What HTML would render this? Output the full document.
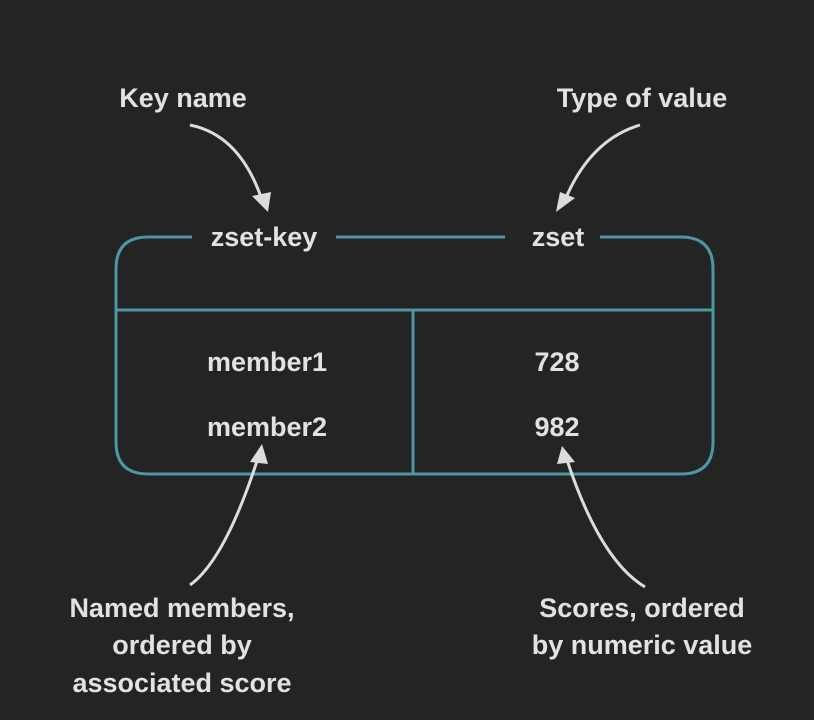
<!DOCTYPE html>
<html><head><meta charset="utf-8"><style>
body{margin:0;background:#242424;}
svg{display:block}
text{font-family:"Liberation Sans Narrow","Liberation Sans",sans-serif;fill:#e2e2e2;text-anchor:middle;font-weight:bold}
</style></head><body>
<svg width="814" height="720" viewBox="0 0 814 720">
<rect width="814" height="720" fill="#242424"/>
<defs><marker id="a" markerWidth="10" markerHeight="10" refX="5" refY="5" orient="auto" markerUnits="userSpaceOnUse" viewBox="0 0 10 10"><path d="M0,0 L10,5 L0,10 Z" fill="#dcdcdc"/></marker></defs>
<g fill="none" stroke="#4c97a3" stroke-width="3">
<path d="M192,237 H148 Q116,237 116,269 V442 Q116,474 148,474 H681 Q713,474 713,442 V269 Q713,237 681,237 H600"/>
<line x1="336" y1="237" x2="505" y2="237"/>
<line x1="116" y1="310" x2="713" y2="310"/>
<line x1="413" y1="310" x2="413" y2="474"/>
</g>
<g fill="none" stroke="#dcdcdc" stroke-width="3">
<path d="M190,125 Q240,135 262,200"/>
<path d="M640,125 Q590,140 565,200"/>
<path d="M190,585 Q225,560 258,458"/>
<path d="M645,587 Q600,560 567,460"/>
</g>
<g fill="#dcdcdc">
<path d="M268,212 L252,196 L271,192 Z"/>
<path d="M556,212 L560,192 L575,198 Z"/>
<path d="M262,444 L250,462 L268,464 Z"/>
<path d="M562,446 L557,464 L575,462 Z"/>
</g>
<g font-size="27">
<text x="183" y="107">Key name</text>
<text x="642" y="107">Type of value</text>
<text x="264" y="246">zset-key</text>
<text x="558" y="246">zset</text>
<text x="267" y="371">member1</text>
<text x="557" y="371">728</text>
<text x="267" y="436">member2</text>
<text x="557" y="436">982</text>
<text x="182" y="617">Named members,</text>
<text x="182" y="654">ordered by</text>
<text x="182" y="692">associated score</text>
<text x="642" y="617">Scores, ordered</text>
<text x="642" y="654">by numeric value</text>
</g>
</svg>
</body></html>
